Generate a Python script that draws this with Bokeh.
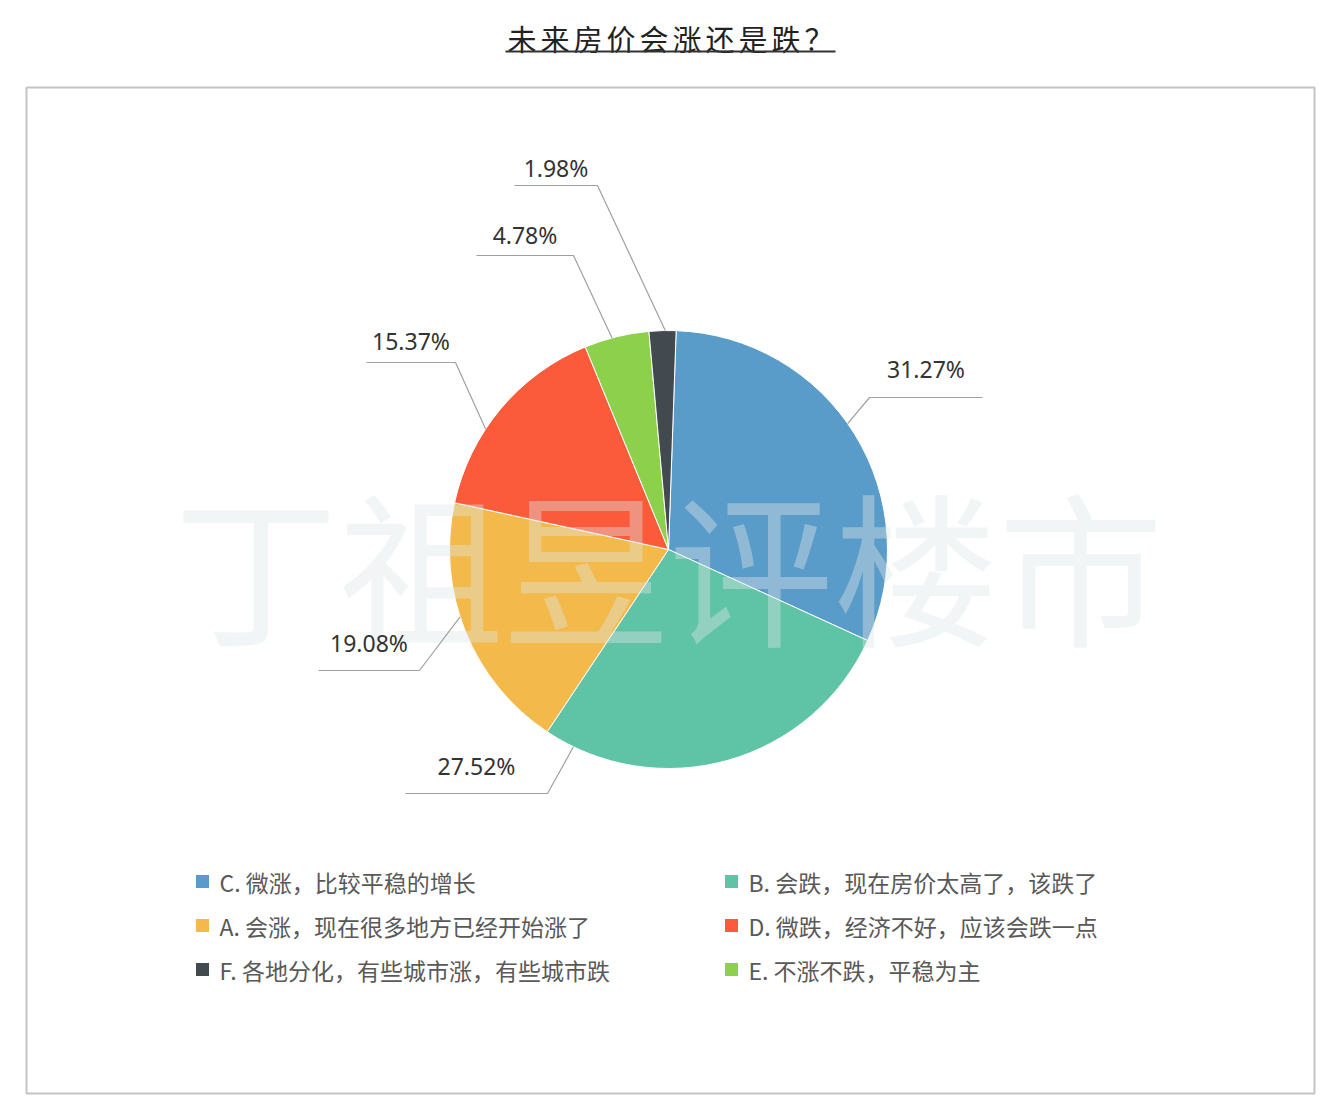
import math
from bokeh.plotting import figure
from bokeh.models import Range1d, ColumnDataSource
from bokeh.core.properties import value
from bokeh.embed import file_html
from bokeh.resources import INLINE

# ---------------- data ----------------
TITLE = "未来房价会涨还是跌？"
WATERMARK = "丁祖昱评楼市"
categories = ["C", "B", "A", "D", "E", "F"]
options = [
    "C. 微涨，比较平稳的增长",
    "B. 会跌，现在房价太高了，该跌了",
    "A. 会涨，现在很多地方已经开始涨了",
    "D. 微跌，经济不好，应该会跌一点",
    "E. 不涨不跌，平稳为主",
    "F. 各地分化，有些城市涨，有些城市跌",
]
percentages = [31.27, 27.52, 19.08, 15.37, 4.78, 1.98]
legend_order = ["C", "B", "A", "D", "F", "E"]

# ---------------- styles / layout ----------------
colors = ["#5a9cc9", "#5fc4a5", "#f3b94a", "#fb5b3b", "#8dd04c", "#434a4f"]
W, H = 1332, 1110


def Y(s):
    return H - s


CX, CY, R = 668, Y(549), 219
START_DEG = 88
# leader-line layout (anchor fraction inside slice, elbow point, end x, text gap)
LABEL_ANCHOR = [0.47, 0.92, 0.56, 0.38, 0.43, 0.6]
LABEL_ELBOW = [(869, 397), (547, 793), (419, 670), (455, 362), (573, 255), (597, 185)]
LABEL_END_X = [982, 405, 318, 366, 476, 514]
LABEL_GAP = [29, 28, 28, 22, 21, 18]

p = figure(width=W, height=H, x_range=Range1d(0, W), y_range=Range1d(0, H),
           output_backend="svg", toolbar_location=None, min_border=0)
p.axis.visible = False
p.grid.visible = False
p.outline_line_color = None
p.background_fill_color = "white"
p.border_fill_color = "white"

# title
xs_t = [521.5 + 33 * i for i in range(len(TITLE))]
p.text(x=xs_t, y=[Y(37)] * len(TITLE), text=list(TITLE),
       text_font=value("Noto Sans CJK SC"), text_font_size=value("29px"),
       text_font_style="normal", text_color="#222222",
       text_align="center", text_baseline="middle")
p.line(x=[505, 835], y=[Y(51), Y(51)], line_width=2, line_color="#333333")

# frame
p.quad(left=[26], right=[1314], bottom=[Y(1093)], top=[Y(87)],
       fill_color=None, line_color="#c4c4c4", line_width=2)

# pie
starts, ends = [], []
a = START_DEG
for v in percentages:
    span = v / 100 * 360
    starts.append(a)
    ends.append(a - span)
    a -= span
src = ColumnDataSource(dict(cat=categories,
                            start=[math.radians(e) for e in ends],
                            end=[math.radians(s) for s in starts],
                            color=colors))
p.wedge(x=CX, y=CY, radius=R, start_angle="start", end_angle="end",
        fill_color="color", line_color="white", line_width=1, source=src)

# watermark
p.text(x=[668], y=[Y(562)], text=[WATERMARK],
       text_font=value("Noto Sans CJK SC"), text_font_size=value("165px"),
       text_color="#dfe5e7", text_alpha=0.4,
       text_align="center", text_baseline="middle")

# labels with leader lines
lx, ly, tx, ty, tt = [], [], [], [], []
for i, v in enumerate(percentages):
    ang = math.radians(starts[i] - LABEL_ANCHOR[i] * (starts[i] - ends[i]))
    sx = CX + R * math.cos(ang)
    sy = CY + R * math.sin(ang)
    ex, ey = LABEL_ELBOW[i]
    endx = LABEL_END_X[i]
    lx.append([sx, ex, endx])
    ly.append([sy, Y(ey), Y(ey)])
    tx.append((ex + endx) / 2)
    ty.append(Y(ey - LABEL_GAP[i]))
    tt.append(f"{v:.2f}%")
p.multi_line(xs=lx, ys=ly, line_color="#a0a0a0", line_width=1.2)
p.text(x=tx, y=ty, text=tt, text_font=value("Noto Sans"),
       text_font_size=value("23px"), text_color="#333333",
       text_align="center", text_baseline="alphabetic")

# legend
sqx, sqy, sqc, ltx, lty, ltt = [], [], [], [], [], []
for k, cat in enumerate(legend_order):
    i = categories.index(cat)
    row, col = divmod(k, 2)
    sqx.append(202 + col * 529)
    sqy.append(Y(881 + row * 44))
    sqc.append(colors[i])
    ltx.append(219 + col * 529)
    lty.append(Y(881 + row * 44))
    ltt.append(options[i])
p.scatter(x=sqx, y=sqy, marker="square", size=13, fill_color=sqc, line_color=None)
p.text(x=ltx, y=lty, text=ltt, text_font=value("Noto Sans CJK SC"),
       text_font_size=value("23px"), text_color="#595959",
       text_align="left", text_baseline="middle")

open("out.html", "w").write(file_html(p, INLINE))
